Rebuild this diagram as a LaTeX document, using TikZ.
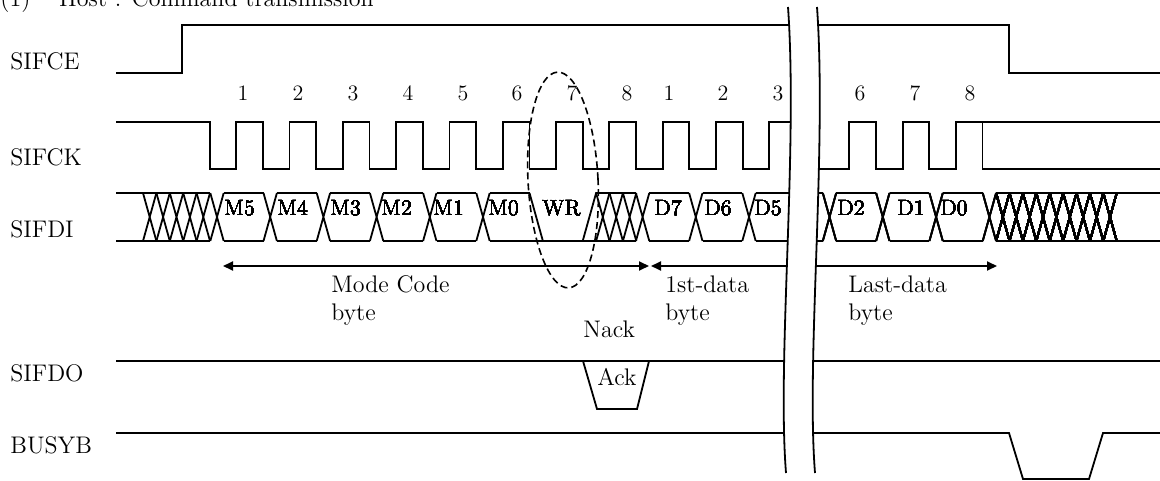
\documentclass[tikz,border=0pt]{standalone}
\usepackage{fontspec}
\usepackage{tikz}
\usetikzlibrary{arrows.meta}
\tikzstyle{signal}=[line width=0.9pt]
\tikzstyle{sig name}=[anchor=base west,inner sep=0pt,font=\fontsize{12}{14}\selectfont]
\tikzstyle{bit num}=[anchor=base,inner sep=0pt,font=\fontsize{11}{13}\selectfont]
\tikzstyle{bit name}=[anchor=base west,inner sep=0pt,font=\fontsize{11}{13}\selectfont]
\tikzstyle{note}=[anchor=base west,inner sep=0pt,font=\fontsize{12}{14}\selectfont]
\tikzstyle{span}=[signal,{Triangle[length=5pt,width=4.5pt]}-{Triangle[length=5pt,width=4.5pt]}]
\tikzstyle{ring}=[line width=0.8pt,dash pattern=on 3.5pt off 2pt]
\newcommand{\xhatch}[2]{%
  \foreach \i in {1,...,#2}
    \draw[signal] ({#1+(\i-1)*13.4},193) -- ({#1+\i*13.4},241)
                  ({#1+(\i-1)*13.4},241) -- ({#1+\i*13.4},193);}
\newcommand{\xcross}[1]{\xhatch{#1-6.7}{1}}
\newcommand{\cellbox}[2]{\draw[signal] ({#1},193) -- ({#2},193) ({#1},241) -- ({#2},241);}

\begin{document}
\begin{tikzpicture}[x=0.5pt,y=-0.5pt]
    \useasboundingbox (0,0) rectangle (1160,481);
    % title, cut at the top
    \node[note] (title) at (0,7) {(1)\hspace{1.2em}Host : Command transmission};
    \foreach \y/\name in {70/SIFCE, 165/SIFCK, 237/SIFDI, 381/SIFDO, 453/BUSYB}
        \node[sig name] (\name) at (10,\y) {\name};
    % SIFCE
    \draw[signal] (116,73) -- (182,73) -- (182,25) -- (1009,25) -- (1009,73) -- (1160,73);
    % SIFCK
    \draw[signal] (116,122) -- (209.6,122) -- (209.6,169)
        \foreach \k in {1,...,10} { -- ({182.95+\k*53.3},169) -- ({182.95+\k*53.3},122)
            -- ({209.6+\k*53.3},122) -- ({209.6+\k*53.3},169) }
        -- (769.25,169) -- (769.25,122) -- (805,122);
    \draw[signal] (808,169) \foreach \j in {0,1,2} { -- ({849.3+\j*53.3},169) -- ({849.3+\j*53.3},122)
            -- ({875.95+\j*53.3},122) -- ({875.95+\j*53.3},169) } -- (1160,169);
    \draw[signal] (982.55,122) -- (1160,122);
    \foreach \x/\n in {243/1, 298/2, 353/3, 408/4, 463/5, 517/6, 572/7, 627/8,
                       669/1, 723/2, 778/3, 860/6, 915/7, 970/8}
        \node[bit num] (clk\x) at (\x,100) {\n};
    % SIFDI
    \draw[signal] (116,193) -- (210.3,193) (116,241) -- (210.3,241);
    \xhatch{143}{5}
    \foreach \k in {0,...,5} {
        \xcross{217+\k*53.2}
        \cellbox{217+\k*53.2+6.7}{217+(\k+1)*53.2-6.7}
    }
    \draw[signal] (529.5,193) -- (542.9,241);
    \draw[signal] (529.5,241) -- (635.9,241);
    \draw[signal] (582.7,241) -- (596.1,193) -- (635.9,193);
    \xhatch{596.1}{3}
    \foreach \k in {8,9,10} \xcross{217+\k*53.2}
    \cellbox{649.3}{689.1}
    \cellbox{702.5}{742.3}
    \cellbox{755.7}{805}
    \cellbox{808}{822.8}
    \foreach \j in {0,...,3} \xcross{829.5+\j*53.3}
    \foreach \j in {0,1,2} \cellbox{836.2+\j*53.3}{875.9+\j*53.3}
    \xhatch{996.1}{9}
    \cellbox{996.1}{1160}
    \foreach \x/\t in {224/M5, 277/M4, 330/M3, 381/M2, 433/M1, 488/M0, 542/WR,
                       654/D7, 704/D6, 754/D5, 837/D2, 897/D1, 940/D0}
        \node[bit name] (bit\t) at (\x,215) {\t};
    % byte spans
    \coordinate (mode l) at (223,266);
    \coordinate (mode r) at (649,266);
    \coordinate (data l) at (651,266);
    \coordinate (data r) at (997,266);
    \draw[span] (mode l) -- (mode r);
    \draw[span] (data l) -- (data r);
    \node[note] (mode1) at (331,292) {Mode Code};
    \node[note] (mode2) at (331,320) {byte};
    \node[note] (first1) at (665,292) {1st-data};
    \node[note] (first2) at (665,320) {byte};
    \node[note] (last1) at (848,292) {Last-data};
    \node[note] (last2) at (848,320) {byte};
    % SIFDO
    \draw[signal] (116,361) -- (1160,361);
    \draw[signal] (583,361) -- (597,409) -- (637,409) -- (649,361);
    \node[note] (nack) at (583,337) {Nack};
    \node[note] (ack) at (597,385) {Ack};
    % BUSYB
    \draw[signal] (116,433) -- (1009,433) -- (1023,479) -- (1089,479) -- (1103,433) -- (1160,433);
    % WR bit ring
    \draw[ring,rotate around={3:(563,180)}] (563,180) ellipse (35 and 108);
    % time break
    \fill[white] (788,7) .. controls (798,150) and (777,360) .. (786,473)
        -- (815,473) .. controls (806,360) and (827,150) .. (817,7) -- cycle;
    \draw[signal] (788,7) .. controls (798,150) and (777,360) .. (786,473);
    \draw[signal] (817,7) .. controls (827,150) and (806,360) .. (815,473);
\end{tikzpicture}
\end{document}
